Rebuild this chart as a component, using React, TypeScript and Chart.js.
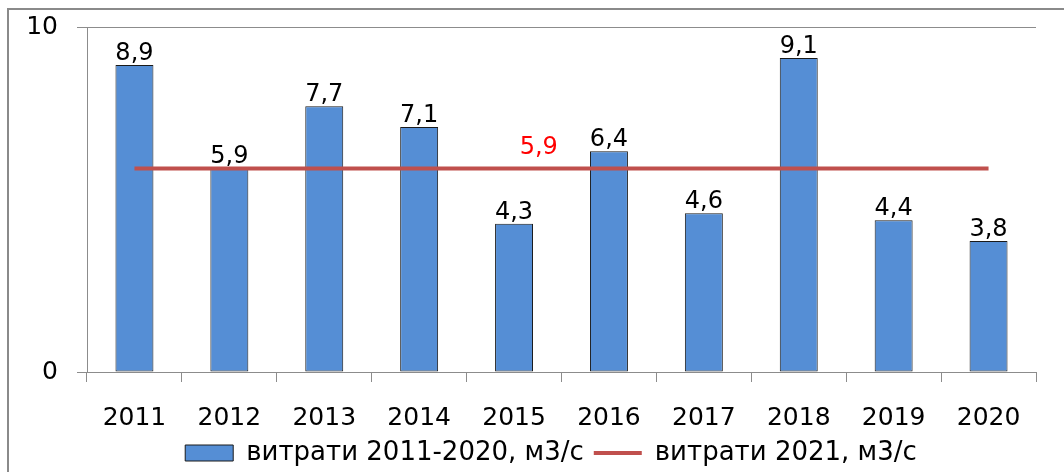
import React, { useEffect, useRef } from "react";
import { Chart, registerables } from "chart.js";

Chart.register(...registerables);

const years = ["2011", "2012", "2013", "2014", "2015", "2016", "2017", "2018", "2019", "2020"];
const flows2011_2020 = [8.9, 5.9, 7.7, 7.1, 4.3, 6.4, 4.6, 9.1, 4.4, 3.8];
const flow2021 = 5.9;
const flow2021Series = years.map(() => flow2021);
const seriesNames = ["витрати 2011-2020, м3/с", "витрати 2021, м3/с"];
const yTicks = [0, 10];

const FONT = "DejaVu Sans";
const fmt = (v: number) => v.toFixed(1).replace(".", ",");

const labelPlugin = {
  id: "valueLabels",
  afterLayout(chart: any) {
    const lg = chart.legend;
    if (lg) {
      lg.left += 33;
      lg.right += 33;
    }
  },
  afterDatasetsDraw(chart: any) {
    const ctx = chart.ctx;
    const barMeta = chart.getDatasetMeta(0);
    ctx.save();
    ctx.font = `24px "${FONT}"`;
    ctx.fillStyle = "#000000";
    ctx.textAlign = "center";
    ctx.textBaseline = "alphabetic";
    barMeta.data.forEach((el: any, i: number) => {
      ctx.fillText(fmt(flows2011_2020[i]), el.x, el.y - 5);
    });
    const xs = chart.scales.x;
    const ys = chart.scales.y;
    const x4 = xs.getPixelForValue(4);
    const x5 = xs.getPixelForValue(5);
    ctx.fillStyle = "#FF0000";
    ctx.fillText(fmt(flow2021), x4 + (x5 - x4) * 0.26, ys.getPixelForValue(flow2021) - 14);
    ctx.restore();
  },
};

export default function App() {
  const ref = useRef<HTMLCanvasElement | null>(null);
  useEffect(() => {
    if (!ref.current) return;
    const chart = new Chart(ref.current, {
      type: "bar",
      data: {
        labels: years,
        datasets: [
          {
            type: "bar",
            label: seriesNames[0],
            data: flows2011_2020,
            backgroundColor: "#558ED5",
            borderColor: "#1A1A1A",
            borderWidth: 1,
            borderSkipped: false,
            barPercentage: 0.4,
            categoryPercentage: 1,
            pointStyle: "rect",
            order: 1,
          } as any,
          {
            type: "line",
            label: seriesNames[1],
            data: flow2021Series,
            borderColor: "#C0504D",
            backgroundColor: "#C0504D",
            borderWidth: 4,
            pointRadius: 0,
            pointStyle: "line",
            order: 0,
          } as any,
        ],
      },
      options: {
        animation: false,
        responsive: false,
        maintainAspectRatio: false,
        layout: { padding: { left: 0, right: 28, top: 27, bottom: -4 } },
        plugins: {
          tooltip: { enabled: false },
          legend: {
            position: "bottom",
            labels: {
              usePointStyle: true,
              pointStyleWidth: 48,
              boxHeight: 16,
              padding: 10,
              color: "#000000",
              font: { family: FONT, size: 26 },
              sort: (a: any, b: any) => a.datasetIndex - b.datasetIndex,
            },
          },
        },
        scales: {
          x: {
            grid: {
              display: true,
              drawOnChartArea: false,
              drawTicks: true,
              tickLength: 10,
              color: "#8C8C8C",
              offset: true,
            },
            border: { display: true, color: "#8C8C8C", width: 1 },
            ticks: {
              color: "#000000",
              font: { family: FONT, size: 25 },
              padding: 21,
              maxRotation: 0,
              autoSkip: false,
            },
            afterFit: (s: any) => {
              s.height = 58;
              s.paddingLeft = 0;
              s.paddingRight = 0;
            },
          },
          y: {
            min: 0,
            max: 10,
            afterBuildTicks: (s: any) => {
              s.ticks = yTicks.map((v) => ({ value: v }));
            },
            grid: { color: "#8C8C8C", tickLength: 10, drawTicks: true },
            border: { display: true, color: "#8C8C8C", width: 1 },
            ticks: {
              color: "#000000",
              font: { family: FONT, size: 25 },
              padding: 19,
            },
            afterFit: (s: any) => {
              s.width = 87;
              s.paddingTop = 0;
              s.paddingBottom = 0;
            },
          },
        },
      },
      plugins: [labelPlugin],
    });
    return () => chart.destroy();
  }, []);

  return (
    <div style={{ position: "fixed", left: 0, top: 0, width: 1064, height: 472, background: "#ffffff" }}>
      <div
        style={{
          position: "absolute",
          left: 7,
          top: 8,
          width: 1057,
          height: 464,
          boxSizing: "border-box",
          borderTop: "2px solid #8A8A8A",
          borderLeft: "2px solid #8A8A8A",
        }}
      />
      <canvas ref={ref} width={1064} height={472} style={{ position: "absolute", left: 0, top: 0 }} />
    </div>
  );
}
